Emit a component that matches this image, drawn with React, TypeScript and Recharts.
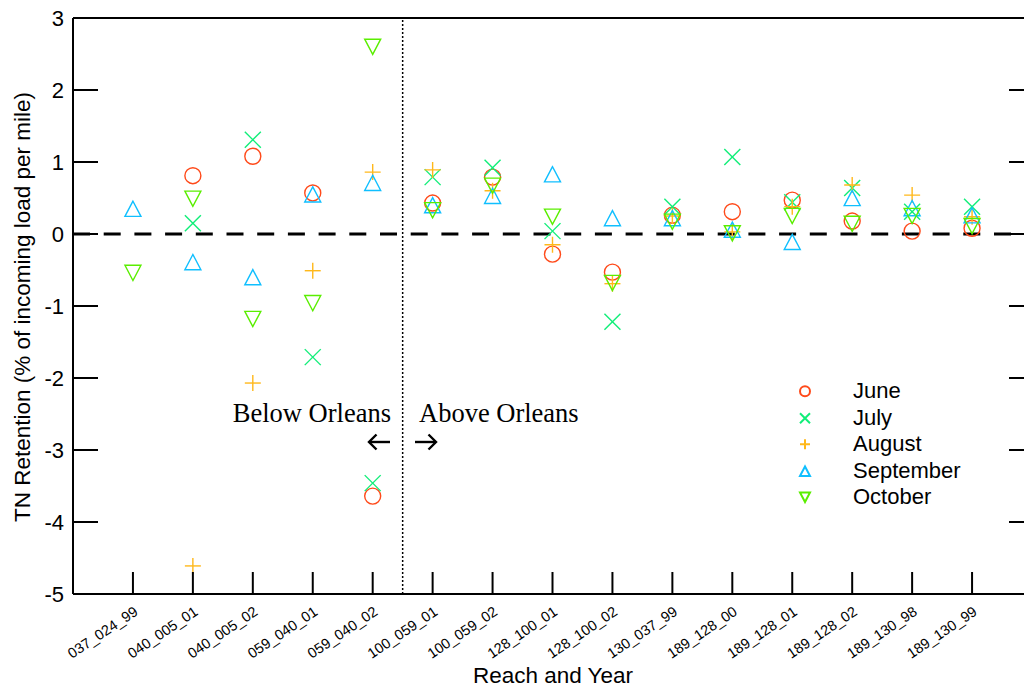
import React from 'react';
import { ScatterChart, Scatter, XAxis, YAxis, ReferenceLine, Legend } from 'recharts';

// Reach identifiers (reach_reach_year) in plotting order
const reaches = [
  '037_024_99', '040_005_01', '040_005_02', '059_040_01', '059_040_02',
  '100_059_01', '100_059_02', '128_100_01', '128_100_02', '130_037_99',
  '189_128_00', '189_128_01', '189_128_02', '189_130_98', '189_130_99',
];

// TN retention, % of incoming load per mile (null = no sample)
const june = [null, 0.81, 1.08, 0.57, -3.64, 0.43, 0.79, -0.28, -0.53, 0.26, 0.31, 0.47, 0.18, 0.04, 0.08];
const july = [null, 0.15, 1.31, -1.71, -3.46, 0.79, 0.92, 0.04, -1.22, 0.38, 1.07, 0.44, 0.64, 0.31, 0.38];
const august = [null, -4.61, -2.07, -0.51, 0.86, 0.89, 0.6, -0.15, -0.69, 0.25, 0.03, 0.38, 0.68, 0.54, 0.24];
const september = [0.35, -0.39, -0.6, 0.55, 0.71, 0.4, 0.53, 0.83, 0.22, 0.22, 0.06, -0.11, 0.5, 0.36, 0.26];
const october = [-0.54, 0.49, -1.18, -0.96, 2.6, 0.33, 0.67, 0.24, -0.68, 0.17, 0.01, 0.25, 0.14, 0.25, 0.11];

const yTicks = [-5, -4, -3, -2, -1, 0, 1, 2, 3];
const xTicks = reaches.map((_, i) => i + 1);

const COLORS = {
  June: '#ff4a1a',
  July: '#10ee78',
  August: '#ffb81a',
  September: '#10bfff',
  October: '#5aee00',
};

type Kind = 'circle' | 'cross' | 'plus' | 'up' | 'down';

const Marker = ({ kind, cx, cy, color, s }: { kind: Kind; cx: number; cy: number; color: string; s: number }) => {
  const sw = s > 6 ? 1.4 : 2;
  if (kind === 'circle') return <circle cx={cx} cy={cy} r={s} fill="none" stroke={color} strokeWidth={sw} />;
  if (kind === 'cross')
    return (
      <g stroke={color} strokeWidth={sw}>
        <line x1={cx - s} y1={cy - s} x2={cx + s} y2={cy + s} />
        <line x1={cx - s} y1={cy + s} x2={cx + s} y2={cy - s} />
      </g>
    );
  if (kind === 'plus')
    return (
      <g stroke={color} strokeWidth={sw}>
        <line x1={cx - s} y1={cy} x2={cx + s} y2={cy} />
        <line x1={cx} y1={cy - s} x2={cx} y2={cy + s} />
      </g>
    );
  const h = s * 0.95;
  if (kind === 'up')
    return <polygon points={`${cx},${cy - h} ${cx - s},${cy + h} ${cx + s},${cy + h}`} fill="none" stroke={color} strokeWidth={sw} />;
  return <polygon points={`${cx},${cy + h} ${cx - s},${cy - h} ${cx + s},${cy - h}`} fill="none" stroke={color} strokeWidth={sw} />;
};

const series: { name: keyof typeof COLORS; kind: Kind; values: (number | null)[] }[] = [
  { name: 'June', kind: 'circle', values: june },
  { name: 'July', kind: 'cross', values: july },
  { name: 'August', kind: 'plus', values: august },
  { name: 'September', kind: 'up', values: september },
  { name: 'October', kind: 'down', values: october },
];

const toPoints = (values: (number | null)[]) =>
  values
    .map((v, i) => ({ x: i + 1, y: v }))
    .filter((p) => p.y !== null);

const BottomTick = (props: any) => {
  const { x, y, payload } = props;
  const ax = x + 6;
  const ay = y + 20;
  return (
    <g>
      <line x1={x} y1={y} x2={x} y2={y - 22} stroke="#000" strokeWidth={2} />
      <text
        x={ax}
        y={ay}
        textAnchor="end"
        fontSize={14.5}
        fontFamily="Arial, 'Liberation Sans', sans-serif"
        fill="#000"
        transform={`rotate(-34, ${ax}, ${ay})`}
      >
        {reaches[payload.value - 1]}
      </text>
    </g>
  );
};

const TopTick = (props: any) => {
  const { x, y } = props;
  return <line x1={x} y1={y} x2={x} y2={y + 23} stroke="#000" strokeWidth={2} />;
};

const LeftTick = (props: any) => {
  const { x, y, payload } = props;
  return (
    <g>
      <line x1={x} y1={y} x2={x + 25} y2={y} stroke="#000" strokeWidth={2} />
      <text x={x - 9} y={y + 8} textAnchor="end" fontSize={22} fontFamily="Arial, 'Liberation Sans', sans-serif" fill="#000">
        {payload.value}
      </text>
    </g>
  );
};

const RightTick = (props: any) => {
  const { x, y } = props;
  return <line x1={x} y1={y} x2={x - 23} y2={y} stroke="#000" strokeWidth={2} />;
};

const LegendBox = () => (
  <div style={{ fontFamily: "Arial, 'Liberation Sans', sans-serif", fontSize: 22, color: '#000' }}>
    {series.map((s) => (
      <div key={s.name} style={{ display: 'flex', alignItems: 'center', height: 26.5 }}>
        <svg width={26} height={26.5} style={{ display: 'block' }}>
          <Marker kind={s.kind} cx={13} cy={13.25} color={COLORS[s.name]} s={5} />
        </svg>
        <span style={{ marginLeft: 35, lineHeight: '26.5px' }}>{s.name}</span>
      </div>
    ))}
  </div>
);

const FONT = "Arial, 'Liberation Sans', sans-serif";
const SERIF = "'Times New Roman', 'Liberation Serif', serif";

export default function App() {
  return (
    <div style={{ position: 'fixed', left: 0, top: 0, width: 1024, height: 688, overflow: 'hidden', background: '#fff' }}>
      <div style={{ position: 'relative', width: 1040, height: 688 }}>
        <ScatterChart width={1040} height={688} margin={{ top: 0, right: 0, bottom: 0, left: 0 }}>
          <XAxis
            type="number"
            dataKey="x"
            domain={[0, 16]}
            ticks={xTicks}
            interval={0}
            height={94}
            tickSize={0}
            tickMargin={0}
            tickLine={false}
            axisLine={{ stroke: '#000', strokeWidth: 2 }}
            tick={<BottomTick />}
          />
          <XAxis
            xAxisId="top"
            orientation="top"
            type="number"
            domain={[0, 16]}
            ticks={xTicks}
            interval={0}
            height={18}
            tickSize={0}
            tickMargin={0}
            tickLine={false}
            axisLine={{ stroke: '#000', strokeWidth: 2 }}
            tick={<TopTick />}
          />
          <YAxis
            type="number"
            dataKey="y"
            domain={[-5, 3]}
            ticks={yTicks}
            interval={0}
            width={73}
            tickSize={0}
            tickMargin={0}
            tickLine={false}
            allowDataOverflow
            axisLine={{ stroke: '#000', strokeWidth: 2 }}
            tick={<LeftTick />}
          />
          <YAxis
            yAxisId="right"
            orientation="right"
            type="number"
            domain={[-5, 3]}
            ticks={yTicks}
            interval={0}
            width={8}
            tickSize={0}
            tickMargin={0}
            tickLine={false}
            allowDataOverflow
            axisLine={{ stroke: '#000', strokeWidth: 2 }}
            tick={<RightTick />}
          />
          <ReferenceLine y={0} stroke="#000" strokeWidth={3} strokeDasharray="17 13.7" />
          <ReferenceLine x={5.5} stroke="#000" strokeWidth={1.5} strokeDasharray="2 2" />
          {series.map((s) => (
            <Scatter
              key={s.name}
              name={s.name}
              data={toPoints(s.values)}
              isAnimationActive={false}
              shape={(p: any) => <Marker kind={s.kind} cx={p.cx} cy={p.cy} color={COLORS[s.name]} s={8} />}
            />
          ))}
          <Legend
            layout="vertical"
            align="center"
            verticalAlign="middle"
            wrapperStyle={{ left: 792, top: 378, width: 220, height: 135 }}
            content={() => <LegendBox />}
          />
        </ScatterChart>
        <svg width={1040} height={688} style={{ position: 'absolute', left: 0, top: 0, pointerEvents: 'none' }}>
          <text
            x={22}
            y={307}
            transform="rotate(-90, 22, 307)"
            textAnchor="middle"
            dominantBaseline="central"
            fontSize={22.5}
            fontFamily={FONT}
            fill="#000"
          >
            TN Retention (% of incoming load per mile)
          </text>
          <text x={553} y={683} textAnchor="middle" fontSize={22.5} fontFamily={FONT} fill="#000">
            Reach and Year
          </text>
          <text x={391} y={422} textAnchor="end" fontSize={26.5} fontFamily={SERIF} fill="#000">
            Below Orleans
          </text>
          <text x={419} y={422} textAnchor="start" fontSize={26.5} fontFamily={SERIF} fill="#000">
            Above Orleans
          </text>
          <g stroke="#000" strokeWidth={2.4} fill="none">
            <line x1={369} y1={442} x2={390} y2={442} />
            <polyline points="376.5,434.5 369,442 376.5,449.5" />
            <line x1={415} y1={442} x2={436} y2={442} />
            <polyline points="428.5,434.5 436,442 428.5,449.5" />
          </g>
        </svg>
      </div>
    </div>
  );
}
